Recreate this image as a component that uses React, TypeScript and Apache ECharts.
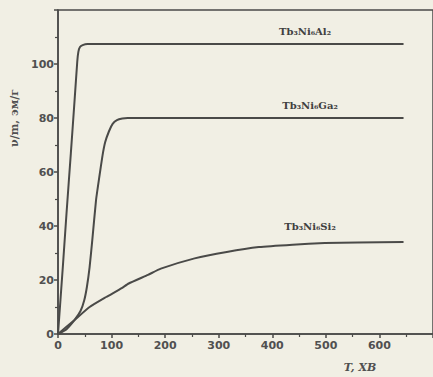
import React, { useEffect, useRef } from "react";
import * as echarts from "echarts";

const xTicks = [0, 100, 200, 300, 400, 500, 600];
const yTicks = [0, 20, 40, 60, 80, 100];

const alData: [number, number][] = [
  [0, 0], [9, 24.8], [16, 45], [24, 67], [31, 86.7], [36, 101], [38, 104.5], [41, 106.3], [46, 107], [55, 107.4], [645, 107.4],
];
const gaData: [number, number][] = [
  [0, 0], [16, 1.8], [31, 5.2], [42, 8.5], [49, 12.5], [54, 17.5], [59, 24.8], [64, 34.8], [71, 49.6], [77, 58], [83, 66], [88, 71],
  [95, 75], [102, 77.8], [110, 79.2], [120, 79.8], [130, 80], [645, 80],
];
const siData: [number, number][] = [
  [0, 0], [31, 5.2], [59, 10], [90, 13.7], [119, 17], [132, 18.7], [168, 21.9], [192, 24.2], [255, 28], [315, 30.4],
  [375, 32.2], [438, 33.1], [498, 33.7], [559, 33.9], [645, 34.1],
];

const seriesNames = ["Tb₃Ni₆Al₂", "Tb₃Ni₆Ga₂", "Tb₃Ni₆Si₂"];
const yTitle = "ν/m, эм/г";
const xTitle = "T, ХВ";

const ink = "#4a4a48";

export default function App() {
  const ref = useRef<HTMLDivElement>(null);
  useEffect(() => {
    if (!ref.current) return;
    const chart = echarts.init(ref.current, undefined, { renderer: "svg" });
    const lineSeries = (data: [number, number][]) => ({
      type: "line",
      data,
      showSymbol: false,
      smooth: 0.15,
      lineStyle: { color: ink, width: 2 },
      silent: true,
    });
    chart.setOption({
      animation: false,
      backgroundColor: "#f1efe4",
      grid: { left: 58, top: 10, bottom: 43, right: -7, show: true, borderColor: ink, borderWidth: 1.5, backgroundColor: "transparent" },
      xAxis: {
        type: "value",
        min: 0,
        max: 700,
        interval: 100,
        axisLine: { show: true, lineStyle: { color: ink, width: 1.5 } },
        axisTick: { show: true, length: 4, lineStyle: { color: ink, width: 1.5 } },
        minorTick: { show: true, splitNumber: 2, length: 3, lineStyle: { color: ink, width: 1.2 } },
        splitLine: { show: false },
        axisLabel: {
          color: "#505050",
          fontFamily: "DejaVu Sans",
          fontWeight: "bold",
          fontSize: 11,
          margin: 6,
          showMaxLabel: false,
          formatter: (v: number) => (xTicks.includes(v) ? String(v) : ""),
        },
      },
      yAxis: {
        type: "value",
        min: 0,
        max: 120,
        interval: 20,
        axisLine: { show: true, lineStyle: { color: ink, width: 1.5 } },
        axisTick: { show: true, length: 4, lineStyle: { color: ink, width: 1.5 } },
        minorTick: { show: true, splitNumber: 2, length: 3, lineStyle: { color: ink, width: 1.2 } },
        splitLine: { show: false },
        axisLabel: {
          color: "#505050",
          fontFamily: "DejaVu Sans",
          fontWeight: "bold",
          fontSize: 11,
          margin: 4,
          showMaxLabel: false,
          formatter: (v: number) => (yTicks.includes(v) ? String(v) : ""),
        },
      },
      series: [lineSeries(alData), lineSeries(gaData), lineSeries(siData)],
      graphic: [
        {
          type: "text",
          x: 14,
          y: 118,
          rotation: Math.PI / 2,
          style: { text: yTitle, fill: "#505050", font: "bold 11px 'DejaVu Serif'", align: "center", verticalAlign: "middle" },
        },
        {
          type: "text",
          x: 360,
          y: 367,
          style: { text: xTitle, fill: "#505050", font: "bold italic 11px 'DejaVu Serif'", align: "center", verticalAlign: "middle" },
        },
        {
          type: "text",
          x: 305,
          y: 31,
          style: { text: seriesNames[0], fill: "#404040", font: "bold 10px 'DejaVu Serif'", align: "center", verticalAlign: "middle" },
        },
        {
          type: "text",
          x: 310,
          y: 105,
          style: { text: seriesNames[1], fill: "#404040", font: "bold 10px 'DejaVu Serif'", align: "center", verticalAlign: "middle" },
        },
        {
          type: "text",
          x: 310,
          y: 226,
          style: { text: seriesNames[2], fill: "#404040", font: "bold 10px 'DejaVu Serif'", align: "center", verticalAlign: "middle" },
        },
      ],
    });
    return () => chart.dispose();
  }, []);
  return <div ref={ref} style={{ position: "fixed", left: 0, top: 0, width: 433, height: 377 }} />;
}
